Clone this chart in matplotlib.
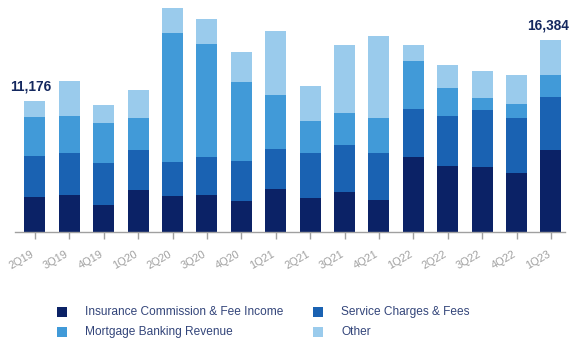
import matplotlib
matplotlib.use("Agg")
import matplotlib.pyplot as plt
from matplotlib.patches import Rectangle
import matplotlib.transforms as mtransforms
import numpy as np

plt.rcParams["font.family"] = ["Liberation Sans", "DejaVu Sans"]

quarters = ["2Q19", "3Q19", "4Q19", "1Q20", "2Q20", "3Q20", "4Q20", "1Q21",
            "2Q21", "3Q21", "4Q21", "1Q22", "2Q22", "3Q22", "4Q22", "1Q23"]

insurance = [2970, 3149, 2272, 3574, 3038, 3149, 2613, 3685,
             2919, 3378, 2698, 6408, 5642, 5557, 5021, 6950]
service = [3480, 3600, 3600, 3378, 2953, 3259, 3464, 3378,
           3830, 4000, 4059, 4025, 4255, 4791, 4655, 4550]
mortgage = [3310, 3149, 3378, 2749, 10918, 9616, 6663, 4595,
            2698, 2749, 2919, 4144, 2383, 1081, 1217, 1870]
other = [1416, 2953, 1532, 2408, 2187, 2068, 2613, 5472,
         2953, 5787, 7004, 1336, 1898, 2298, 2493, 3014]

series_names = ["Insurance Commission & Fee Income", "Service Charges & Fees",
                "Mortgage Banking Revenue", "Other"]
colors = ["#0b2266", "#1a62b2", "#419ad8", "#9acbec"]

W, H = 571, 342
fig = plt.figure(figsize=(W / 100, H / 100), dpi=100)
ax = fig.add_axes([15 / W, (H - 232) / H, 550 / W, 232 / H])

x = np.arange(len(quarters))
bottom = np.zeros(len(quarters))
for vals, col in zip([insurance, service, mortgage, other], colors):
    ax.bar(x, vals, width=0.61, bottom=bottom, color=col, linewidth=0)
    bottom += np.array(vals)

ax.set_xlim(-0.581, 15.41)
ax.set_ylim(0, 19750)

for s in ["top", "right", "left"]:
    ax.spines[s].set_visible(False)
ax.spines["bottom"].set_color("#a0a0a0")
ax.spines["bottom"].set_linewidth(1.0)
ax.set_yticks([])
ax.set_xticks(x)
ax.set_xticklabels(quarters, rotation=30, ha="right", rotation_mode="anchor",
                   fontsize=7.9, color="#a0a0a0")
ax.tick_params(axis="x", length=5, width=1, color="#a0a0a0", pad=7)
offset = mtransforms.ScaledTranslation(-4 / 100, 0, fig.dpi_scale_trans)
for lbl in ax.get_xticklabels():
    lbl.set_transform(lbl.get_transform() + offset)

# Totals for the first and last quarter
totals = bottom
for i in (0, len(quarters) - 1):
    ax.annotate(f"{int(round(totals[i])):,}", (x[i], totals[i]),
                xytext=(-3 if i == 0 else -2, 5), textcoords="offset points",
                ha="center", va="bottom", fontsize=9.8, fontweight="bold",
                color="#14285f")

# Legend
entries = [(series_names[0], colors[0], 57, 307),
           (series_names[1], colors[1], 313, 307),
           (series_names[2], colors[2], 57, 327),
           (series_names[3], colors[3], 313, 327)]
for name, col, px, py in entries:
    fig.add_artist(Rectangle((px / W, 1 - (py + 10) / H), 10 / W, 10 / H,
                             transform=fig.transFigure, color=col, lw=0))
    fig.text((px + 28) / W, 1 - (py + 5) / H, name, fontsize=8.6,
             color="#33457a", va="center", ha="left")

fig.savefig("out.png", dpi=100)
